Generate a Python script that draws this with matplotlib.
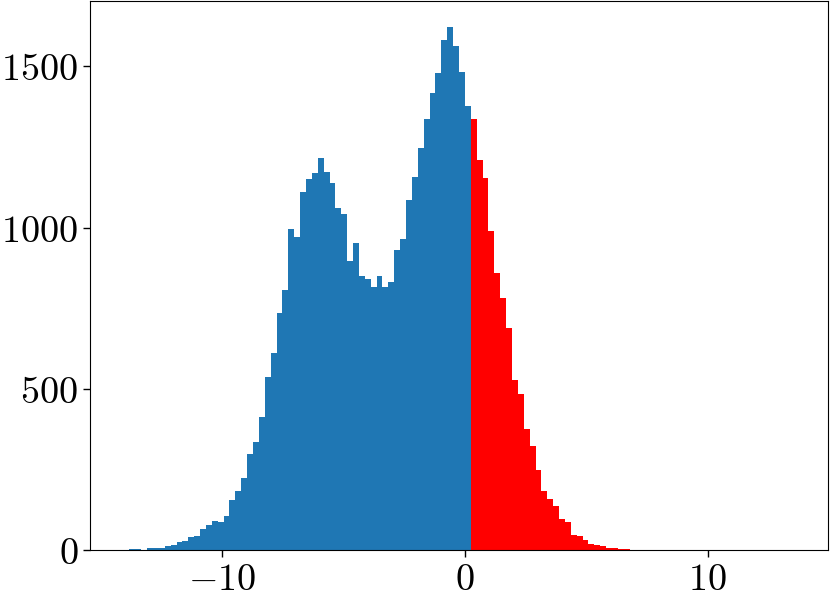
import numpy as np
import matplotlib
matplotlib.use("Agg")
import matplotlib.pyplot as plt
from matplotlib.ticker import FuncFormatter

plt.rcParams['mathtext.fontset'] = 'cm'
plt.rcParams['font.family'] = 'serif'
plt.rcParams['font.serif'] = ['DejaVu Serif']

# histogram range and bin count
x_min, x_max = -14.05, 13.58
n_bins = 114
split_bin = 59  # bins from here on are drawn red

# counts, left to right
blue_counts = [0, 2, 2, 1, 7, 5, 7, 13, 15, 24,
               28, 41, 43, 65, 78, 91, 88, 104, 154, 183,
               224, 297, 335, 414, 538, 610, 734, 807, 997, 972,
               1111, 1151, 1169, 1215, 1172, 1139, 1061, 1041, 895, 953,
               851, 842, 816, 850, 817, 830, 931, 966, 1085, 1157,
               1247, 1338, 1418, 1479, 1581, 1622, 1563, 1482, 1378]
red_counts = [1336, 1211, 1153, 991, 860, 782, 689, 528, 483, 376,
              324, 247, 183, 158, 135, 95, 86, 47, 44, 31,
              18, 15, 11, 7, 7, 4, 4, 1, 1, 0,
              0, 0, 0, 0, 0, 0, 0, 0, 0, 0,
              0, 0, 0, 0, 0, 0, 0, 0, 0, 0,
              0, 0, 0, 0, 1]

x_ticks = [-10, 0, 10]
y_ticks = [0, 500, 1000, 1500]

edges = np.linspace(x_min, x_max, n_bins + 1)
centers = 0.5 * (edges[:-1] + edges[1:])

fig = plt.figure(figsize=(8.30, 6.03), dpi=100)
ax = fig.add_axes([90 / 830, 53 / 603, 738 / 830, 549 / 603])

ax.hist(centers[:split_bin], bins=edges[:split_bin + 1], weights=blue_counts,
        color='#1f77b4')
ax.hist(centers[split_bin:], bins=edges[split_bin:], weights=red_counts,
        color='red')

ax.set_xticks(x_ticks)
ax.set_yticks(y_ticks)
fmt = FuncFormatter(lambda v, pos: r'$%g$' % v)
ax.xaxis.set_major_formatter(fmt)
ax.yaxis.set_major_formatter(fmt)
ax.tick_params(labelsize=27.5, length=5, width=1)

fig.savefig('out.png', dpi=100)
plt.close(fig)
